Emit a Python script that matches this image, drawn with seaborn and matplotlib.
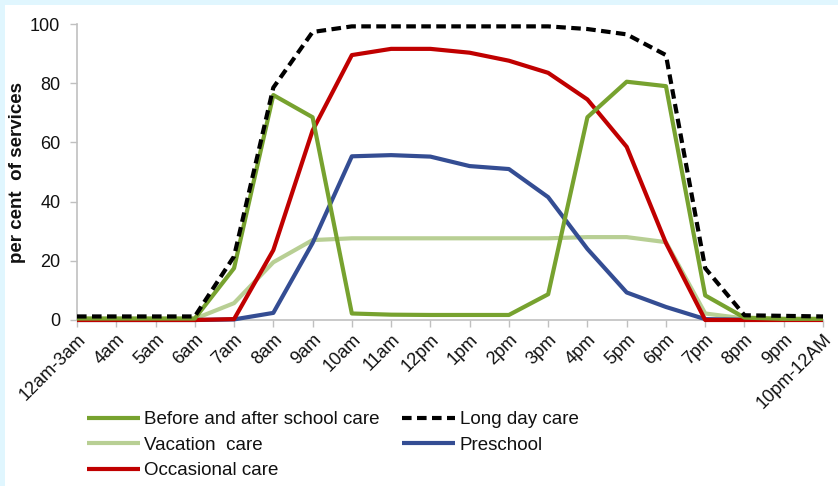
import matplotlib
matplotlib.use("Agg")
import matplotlib.pyplot as plt
import seaborn as sns
import pandas as pd

sns.set_theme(style="white")
plt.rcParams['font.family'] = ['Liberation Sans', 'DejaVu Sans']

hours = ["12am-3am", "4am", "5am", "6am", "7am", "8am", "9am", "10am", "11am",
         "12pm", "1pm", "2pm", "3pm", "4pm", "5pm", "6pm", "7pm", "8pm", "9pm",
         "10pm-12AM"]
before_after = [0.5, 0.5, 0.5, 0.5, 17.5, 76, 68.5, 2.2, 1.8, 1.7, 1.7, 1.7, 8.7,
                68.5, 80.5, 79, 8.3, 0.8, 0.4, 0.4]
long_day = [1.2, 1.2, 1.2, 1.2, 21.5, 78.5, 97.3, 99.2, 99.2, 99.2, 99.2, 99.2, 99.2,
            98.3, 96.5, 89.5, 17.5, 1.6, 1.4, 1.2]
vacation = [0.4, 0.4, 0.4, 0.4, 5.7, 19.5, 27, 27.6, 27.6, 27.6, 27.6, 27.6, 27.6,
            28, 28, 26.3, 2.2, 0.5, 0.3, 0.3]
preschool = [0, 0, 0, 0, 0.2, 2.4, 26, 55.3, 55.7, 55.2, 52, 51, 41.5,
             24, 9.3, 4.4, 0.3, 0.1, 0.1, 0.1]
occasional = [0, 0, 0, 0, 0.3, 23.6, 64, 89.5, 91.6, 91.6, 90.3, 87.6, 83.5,
              74.5, 58.5, 26, 0, 0, 0, 0]

series = [
    ("Before and after school care", before_after, "#77a22f", "-"),
    ("Vacation  care", vacation, "#b8cf94", "-"),
    ("Occasional care", occasional, "#c00000", "-"),
    ("Long day care", long_day, "#000000", "--"),
    ("Preschool", preschool, "#344d93", "-"),
]
draw_order = ["Vacation  care", "Preschool", "Occasional care",
              "Before and after school care", "Long day care"]

rows = []
for name, vals, c, ls in series:
    for i, v in enumerate(vals):
        rows.append({"hour": i, "label": hours[i], "value": v, "series": name})
df = pd.DataFrame(rows)

W, H = 838, 486
fig = plt.figure(figsize=(W / 100, H / 100), dpi=100)
fig.patch.set_facecolor("#e0f6fe")
bg = fig.add_axes([5 / W, 0, 1 - 5 / W, 1 - 5 / H], zorder=-10)
bg.set_facecolor("white")
bg.set_xticks([]); bg.set_yticks([])
for s in bg.spines.values():
    s.set_visible(False)

ax = fig.add_axes([77 / W, 1 - 320 / H, (823 - 77) / W, (320 - 24) / H])
ax.set_facecolor("none")

style = {n: (c, ls) for n, _, c, ls in series}
handles = {}
for z, name in enumerate(draw_order):
    c, ls = style[name]
    sub = df[df["series"] == name]
    sns.lineplot(data=sub, x="hour", y="value", ax=ax, color=c, lw=3.0,
                 linestyle=ls, zorder=3 + z, label=name, legend=False,
                 solid_capstyle="butt", dashes=False)
    ln = ax.lines[-1]
    if ls == "--":
        ln.set_dashes((2.3, 1.3))
    ln.set_clip_on(False)
    handles[name] = ln

ax.set_xlim(0, 19)
ax.set_ylim(0, 100)
ax.set_yticks([0, 20, 40, 60, 80, 100])
ax.set_xticks(range(len(hours)))
ax.set_xticklabels(hours, rotation=45, ha="right", rotation_mode="anchor",
                   fontsize=13, color="#111111")
ax.tick_params(axis="y", labelsize=13, colors="#111111", length=5, width=1,
               color="#c0c0c0", direction="out", left=True, pad=7)
ax.tick_params(axis="x", length=5, width=1, color="#c0c0c0", direction="out",
               bottom=True, pad=3)
for s in ["top", "right"]:
    ax.spines[s].set_visible(False)
for s in ["left", "bottom"]:
    ax.spines[s].set_color("#c0c0c0")
    ax.spines[s].set_linewidth(1.2)
ax.set_xlabel("")
ax.set_ylabel("per cent  of services", fontsize=13.5, fontweight="bold",
              color="#111111", labelpad=3)

order = [s[0] for s in series]
leg = fig.legend([handles[n] for n in order], order, ncol=2,
                 loc="upper left", bbox_to_anchor=(74 / W, 1 - 398 / H),
                 frameon=False, fontsize=13.5, handlelength=2.8,
                 handletextpad=0.25, labelspacing=0.45, columnspacing=1.2,
                 borderpad=0.2)
for t in leg.get_texts():
    t.set_color("#111111")

fig.savefig("out.png", dpi=100, facecolor=fig.get_facecolor())
